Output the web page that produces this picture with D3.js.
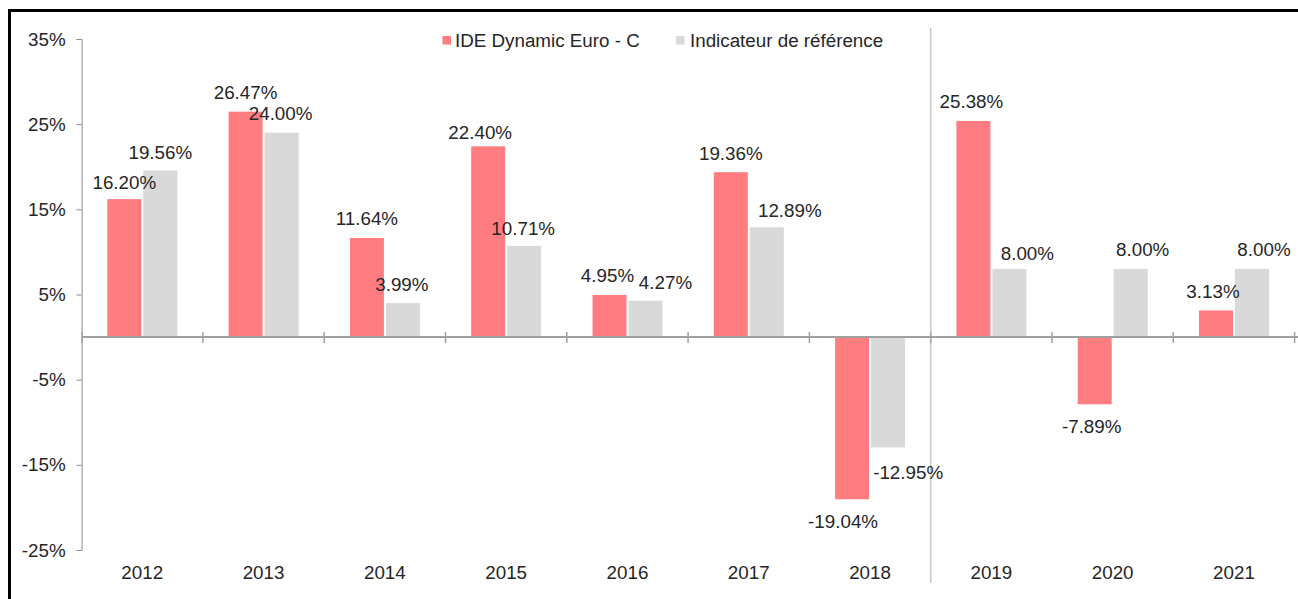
<!DOCTYPE html>
<html>
<head>
<meta charset="utf-8">
<script src="https://cdn.jsdelivr.net/npm/d3@7"></script>
<style>
  body { margin: 0; background: #fff; }
  svg text { font-family: "Liberation Sans", Arial, sans-serif; fill: #262626; }
</style>
</head>
<body>
<script>
const years = ["2012", "2013", "2014", "2015", "2016", "2017", "2018", "2019", "2020", "2021"];
const fundValues = [16.20, 26.47, 11.64, 22.40, 4.95, 19.36, -19.04, 25.38, -7.89, 3.13];
const benchValues = [19.56, 24.00, 3.99, 10.71, 4.27, 12.89, -12.95, 8.00, 8.00, 8.00];
const seriesNames = ["IDE Dynamic Euro - C", "Indicateur de référence"];
const yTicks = [-25, -15, -5, 5, 15, 25, 35];

const width = 1298;
const height = 599;
const colors = ["#FF7C80", "#D9D9D9"];
const fontSize = 18.8;

// petits décalages manuels des étiquettes (comme dans l'original)
const labelShift = [
    [[0, 2], [0, 0], [0, 0], [-8, 5], [-2, 0], [0, 0], [-9, 0], [-2, 0], [-3, 0], [-3, 0]],
    [[0, 1], [-1, 0], [-1, 0], [-1, 2], [20, 1], [23, 2], [20, 3], [18, 4], [12, 0], [12, 0]]
];

const svg = d3.select("body").append("svg")
    .attr("width", width)
    .attr("height", height);

// cadre
svg.append("rect")
    .attr("x", 9.5)
    .attr("y", 10.5)
    .attr("width", width + 20)
    .attr("height", height + 20)
    .attr("fill", "none")
    .attr("stroke", "#000")
    .attr("stroke-width", 3);

const x = d3.scaleBand()
    .domain(years)
    .range([81.6, 1294.6])
    .padding(0);

const x1 = d3.scaleBand()
    .domain([0, 1])
    .range([25.7, 95.7])
    .paddingInner(0.056);

const y = d3.scaleLinear()
    .domain([-25, 35])
    .range([550, 39]);

// séparateur 2018 / 2019
svg.append("line")
    .attr("x1", x("2019"))
    .attr("x2", x("2019"))
    .attr("y1", 28)
    .attr("y2", 583)
    .attr("stroke", "#c8c8c8")
    .attr("stroke-width", 1.5);

// axe Y
const yAxis = svg.append("g")
    .attr("transform", `translate(${x.range()[0]},0)`)
    .call(d3.axisLeft(y).tickValues(yTicks).tickSizeOuter(0).tickSize(5).tickFormat(d => d + "%"));
yAxis.select(".domain").attr("stroke", "#8c8c8c");
yAxis.selectAll(".tick line").attr("stroke", "#8c8c8c");
yAxis.selectAll(".tick text")
    .attr("x", -16)
    .attr("font-size", fontSize)
    .attr("font-family", null)
    .attr("fill", "#262626");

// barres
const series = [fundValues, benchValues];
series.forEach((vals, s) => {
    svg.append("g").selectAll("rect")
        .data(vals)
        .join("rect")
        .attr("x", (d, i) => x(years[i]) + x1(s))
        .attr("width", x1.bandwidth())
        .attr("y", d => y(Math.max(0, d)))
        .attr("height", d => Math.abs(y(d) - y(0)))
        .attr("fill", colors[s]);
});

// ligne zéro + graduations
svg.append("line")
    .attr("x1", x.range()[0])
    .attr("x2", width)
    .attr("y1", y(0))
    .attr("y2", y(0))
    .attr("stroke", "#a0a0a0")
    .attr("stroke-width", 2);

svg.append("g").selectAll("line")
    .data(years.slice(1).concat(["end"]))
    .join("line")
    .attr("x1", d => d === "end" ? x.range()[1] : x(d))
    .attr("x2", d => d === "end" ? x.range()[1] : x(d))
    .attr("y1", y(0) - 5)
    .attr("y2", y(0) + 6)
    .attr("stroke", "#a0a0a0")
    .attr("stroke-width", 1.5);

svg.append("line")
    .attr("x1", x.range()[0] + 0.5)
    .attr("x2", x.range()[0] + 0.5)
    .attr("y1", y(0) - 5)
    .attr("y2", y(0) + 6)
    .attr("stroke", "#a0a0a0")
    .attr("stroke-width", 1.5);

// étiquettes de données
series.forEach((vals, s) => {
    svg.append("g").selectAll("text")
        .data(vals)
        .join("text")
        .attr("x", (d, i) => x(years[i]) + x1(s) + x1.bandwidth() / 2 + labelShift[s][i][0])
        .attr("y", (d, i) => (d >= 0 ? y(d) - 19 : y(d) + 22) + labelShift[s][i][1])
        .attr("text-anchor", "middle")
        .attr("dominant-baseline", "central")
        .attr("font-size", fontSize)
        .text(d => d.toFixed(2) + "%");
});

// années
svg.append("g").selectAll("text")
    .data(years)
    .join("text")
    .attr("x", d => x(d) + x.bandwidth() / 2)
    .attr("y", 572)
    .attr("text-anchor", "middle")
    .attr("dominant-baseline", "central")
    .attr("font-size", fontSize)
    .text(d => d);

// légende
const legendX = [442.5, 676];
const legend = svg.append("g").selectAll("g")
    .data(seriesNames)
    .join("g")
    .attr("transform", (d, i) => `translate(${legendX[i]},36)`);
legend.append("rect")
    .attr("width", 8.5)
    .attr("height", 8.5)
    .attr("fill", (d, i) => colors[i]);
legend.append("text")
    .attr("x", (d, i) => i === 0 ? 12.5 : 14)
    .attr("y", 4.5)
    .attr("dominant-baseline", "central")
    .attr("font-size", fontSize)
    .text(d => d);
</script>
</body>
</html>
